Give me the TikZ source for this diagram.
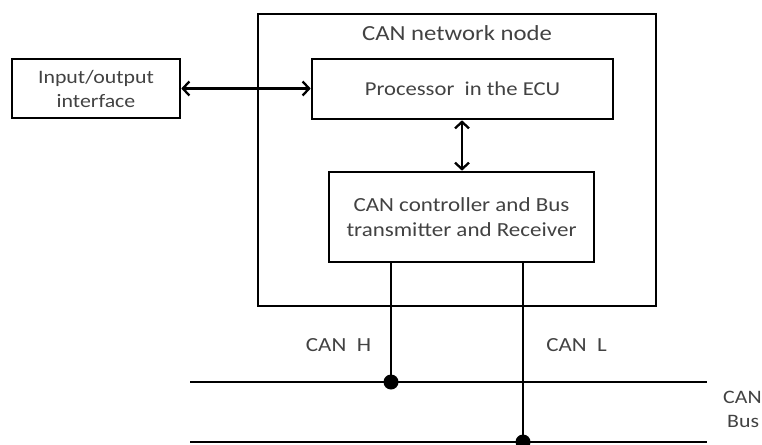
\documentclass[tikz,border=0pt]{standalone}
\usepackage{fontspec}
\setmainfont{Carlito}[FakeStretch=1.15]
\usetikzlibrary{arrows.meta}
\definecolor{labelgray}{RGB}{66,66,66}
\tikzset{
  block/.style={draw=black, line width=2.6pt, rectangle, inner sep=0pt,
    align=center, text=labelgray},
  label text/.style={text=labelgray, inner sep=0pt},
  link/.style={line width=2.3pt, {Straight Barb[length=6.5pt,width=14pt,line width=2.3pt]}-{Straight Barb[length=6.5pt,width=14pt,line width=2.3pt]}},
  wire/.style={line width=2.3pt},
  busline/.style={line width=2.5pt},
  junction/.style={circle, fill=black, inner sep=0pt, minimum size=15pt},
}
\newcommand{\txtsize}[2]{\fontsize{#1}{#2}\selectfont}
\begin{document}
\begin{tikzpicture}[x=1pt, y=-1pt]
  \useasboundingbox (0,0) rectangle (762,444);
  \clip (0,0) rectangle (762,444);

  % outer CAN node frame and its title
  \node[block, minimum width=398pt, minimum height=292pt] (node) at (457,160) {};
  \node[label text, anchor=base, font=\txtsize{21.5}{26}] (title) at (457,41) {CAN network node};

  % blocks
  \node[block, minimum width=168pt, minimum height=59pt, font=\txtsize{19}{24}] (io) at (96,88.5)
    {Input/output\\interface};
  \node[block, minimum width=301pt, minimum height=60pt, font=\txtsize{19.7}{24}] (proc) at (462.5,89)
    {Processor\ \ in the ECU};
  \node[block, minimum width=265pt, minimum height=90pt, font=\txtsize{20}{24.5}] (ctrl) at (461.5,217)
    {CAN controller and Bus\\transmitter and Receiver};

  % data links
  \draw[link] (io.east) -- (io.east -| proc.west);
  \draw[link] (proc.south -| 462,0) -- (ctrl.north -| 462,0);

  % bus lines
  \coordinate (hl) at (190,382);
  \coordinate (hr) at (707,382);
  \coordinate (ll) at (190,442);
  \coordinate (lr) at (707,442);
  \draw[busline] (hl) -- (hr);
  \draw[busline] (ll) -- (lr);

  % junctions on the bus
  \node[junction] (jh) at (391,382) {};
  \node[junction] (jl) at (523,442) {};

  % CAN H / CAN L wires
  \draw[wire] (ctrl.south -| jh) -- (jh.center);
  \draw[wire] (ctrl.south -| jl) -- (jl.center);

  % labels
  \node[label text, font=\txtsize{20}{24}] (canh) at (338.5,345) {CAN\ \ H};
  \node[label text, font=\txtsize{20}{24}] (canl) at (576.5,345) {CAN\ \ L};
  \node[label text, anchor=west, font=\txtsize{19}{24}] (buscan) at (723,397) {CAN};
  \node[label text, anchor=west, font=\txtsize{19}{24}] (busbus) at (727,421) {Bus};
\end{tikzpicture}
\end{document}
